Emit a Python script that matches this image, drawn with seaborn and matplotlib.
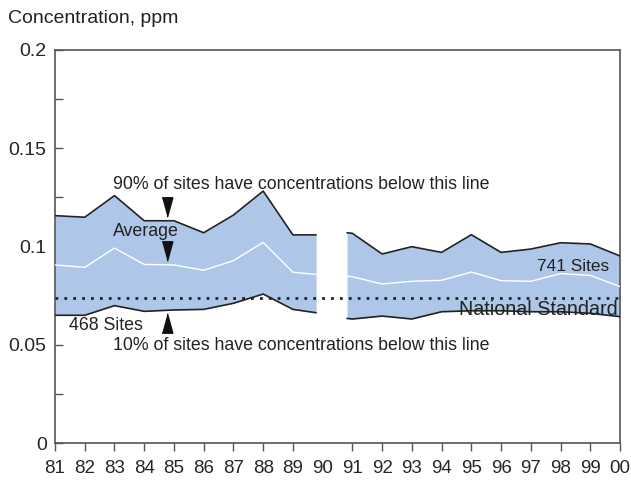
import numpy as np
import pandas as pd
import seaborn as sns
import matplotlib.pyplot as plt
from matplotlib.ticker import MultipleLocator

# year labels on the x axis
years = ['81', '82', '83', '84', '85', '86', '87', '88', '89', '90',
         '91', '92', '93', '94', '95', '96', '97', '98', '99', '00']

# positions (in year index) of the points of each segment
x_first = [0, 1, 2, 3, 4, 5, 6, 7, 8, 8.78]
x_second = [9.82, 10, 11, 12, 13, 14, 15, 16, 17, 18, 19]

# 90th percentile, average and 10th percentile, first period (468 sites)
top_first = [0.1157, 0.1149, 0.1259, 0.1131, 0.1131, 0.1070, 0.1160, 0.1282, 0.1059, 0.1059]
avg_first = [0.0906, 0.0894, 0.0992, 0.0909, 0.0906, 0.0879, 0.0928, 0.1021, 0.0869, 0.0858]
low_first = [0.0650, 0.0650, 0.0699, 0.0670, 0.0677, 0.0680, 0.0711, 0.0758, 0.0680, 0.0663]

# second period (741 sites)
top_second = [0.1070, 0.1067, 0.0962, 0.0999, 0.0970, 0.1060, 0.0970, 0.0987, 0.1019, 0.1013, 0.0952]
avg_second = [0.0850, 0.0846, 0.0809, 0.0823, 0.0828, 0.0870, 0.0826, 0.0823, 0.0862, 0.0853, 0.0796]
low_second = [0.0634, 0.0631, 0.0646, 0.0631, 0.0668, 0.0673, 0.0673, 0.0668, 0.0668, 0.0660, 0.0643]

national_standard = 0.074

df = pd.DataFrame({
    'x': x_first + x_second,
    'top': top_first + top_second,
    'avg': avg_first + avg_second,
    'low': low_first + low_second,
    'seg': ['a'] * len(x_first) + ['b'] * len(x_second),
})

sns.set_style("ticks")
plt.rcParams['font.family'] = ['Liberation Sans', 'DejaVu Sans']

fig = plt.figure(figsize=(6.31, 4.83), dpi=100)
ax = fig.add_axes([0.0872, 0.0828, 0.8954, 0.8137])

band = '#aec7e8'
for seg, d in df.groupby('seg'):
    ax.fill_between(d['x'], d['low'], d['top'], color=band, lw=0, zorder=1)

sns.lineplot(data=df, x='x', y='top', units='seg', estimator=None,
             color='#222222', lw=1.2, ax=ax, zorder=4)
sns.lineplot(data=df, x='x', y='low', units='seg', estimator=None,
             color='#222222', lw=1.2, ax=ax, zorder=4)
sns.lineplot(data=df, x='x', y='avg', units='seg', estimator=None,
             color='white', lw=1.0, ax=ax, zorder=3)

ax.axhline(national_standard, color='#222222', lw=2, ls=(0, (1, 2.2)), zorder=3)

ax.set_xlim(0, 19)
ax.set_ylim(0, 0.2)
ax.set_xticks(range(len(years)))
ax.set_xticklabels(years, fontsize=13.5)
ax.yaxis.set_major_locator(MultipleLocator(0.05))
ax.yaxis.set_minor_locator(MultipleLocator(0.025))
ax.set_yticks([0, 0.05, 0.1, 0.15, 0.2])
ax.set_yticklabels(['0', '0.05', '0.1', '0.15', '0.2'], fontsize=14)
ax.tick_params(axis='x', direction='out', length=6, width=1, color='#555555', pad=6)
ax.tick_params(axis='y', which='both', direction='in', length=6, width=1, color='#555555', pad=6)
ax.xaxis.get_major_ticks()[9].tick1line.set_visible(False)
for s in ax.spines.values():
    s.set_visible(True)
    s.set_color('#555555')
    s.set_linewidth(1.2)
ax.set_xlabel('')
ax.set_ylabel('')

fig.text(0.013, 0.962, 'Concentration, ppm', fontsize=14, color='#222222', va='center')

txt = dict(fontsize=12.8, color='#222222', va='center')
ax.text(1.95, 0.1315, '90% of sites have concentrations below this line', **txt)
ax.text(1.95, 0.1077, 'Average', **txt)
ax.text(0.47, 0.0600, '468 Sites', **txt)
ax.text(1.95, 0.0497, '10% of sites have concentrations below this line', **txt)
ax.text(16.2, 0.0898, '741 Sites', fontsize=12.4, color='#222222', va='center')
ax.text(13.6, 0.0678, 'National Standard', fontsize=14.2, color='#222222', va='center', zorder=2)

down = [(-0.55, 1), (0.55, 1), (0, -1)]
up = [(-0.55, -1), (0.55, -1), (0, 1)]
ax.plot([3.75, 3.75], [0.1203, 0.0977], ls='none', marker=down, ms=14, color='#111111', zorder=5)
ax.plot([3.75], [0.0611], ls='none', marker=up, ms=14, color='#111111', zorder=5)

plt.savefig('out.png', dpi=100)
